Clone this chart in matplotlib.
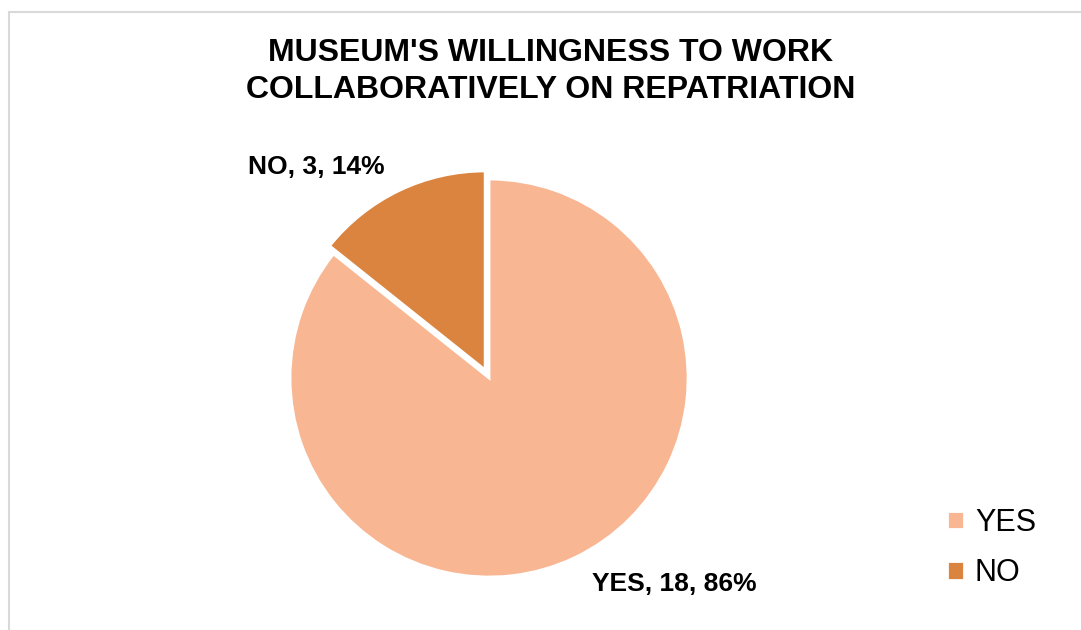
import matplotlib.pyplot as plt
from matplotlib.patches import Rectangle

categories = ['YES', 'NO']
counts = [18, 3]
colors = ['#F8B692', '#DA843F']

plt.rcParams['font.family'] = ['Liberation Sans', 'DejaVu Sans']

fig = plt.figure(figsize=(10.81, 6.30), dpi=100)

# light grey frame around the chart area
fig.patches.append(Rectangle((9 / 1081, -0.02), 1.02, 0.981 + 0.02,
                             transform=fig.transFigure, fill=False,
                             edgecolor='#D9D9D9', linewidth=1.5))

ax = fig.add_axes([0.2683, 0.0841, 0.3682, 0.6317])
total = sum(counts)
wedges, _ = ax.pie(counts, colors=colors, startangle=90, counterclock=False,
                   explode=[0, 0.045],
                   wedgeprops=dict(edgecolor='white', linewidth=2))
ax.set_xlim(-1, 1)
ax.set_ylim(-1, 1)
ax.set_aspect('equal')

pcts = [round(c / total * 100) for c in counts]
lbl = ['%s, %d, %d%%' % (categories[i], counts[i], pcts[i]) for i in range(2)]
fig.text(0.5476, 0.073, lbl[0], fontsize=19, fontweight='bold',
         ha='left', va='center')
fig.text(0.2294, 0.735, lbl[1], fontsize=19, fontweight='bold',
         ha='left', va='center')

fig.text(0.509, 0.887, "MUSEUM'S WILLINGNESS TO WORK\nCOLLABORATIVELY ON REPATRIATION",
         fontsize=23, fontweight='bold', ha='center', va='center',
         linespacing=1.3)

fig.legend(wedges, categories, loc='center left',
           bbox_to_anchor=(0.851, 0.130), frameon=False, fontsize=22,
           handlelength=0.55, handleheight=0.55, handletextpad=0.35,
           labelspacing=0.68)

fig.savefig('out.png', dpi=100)
